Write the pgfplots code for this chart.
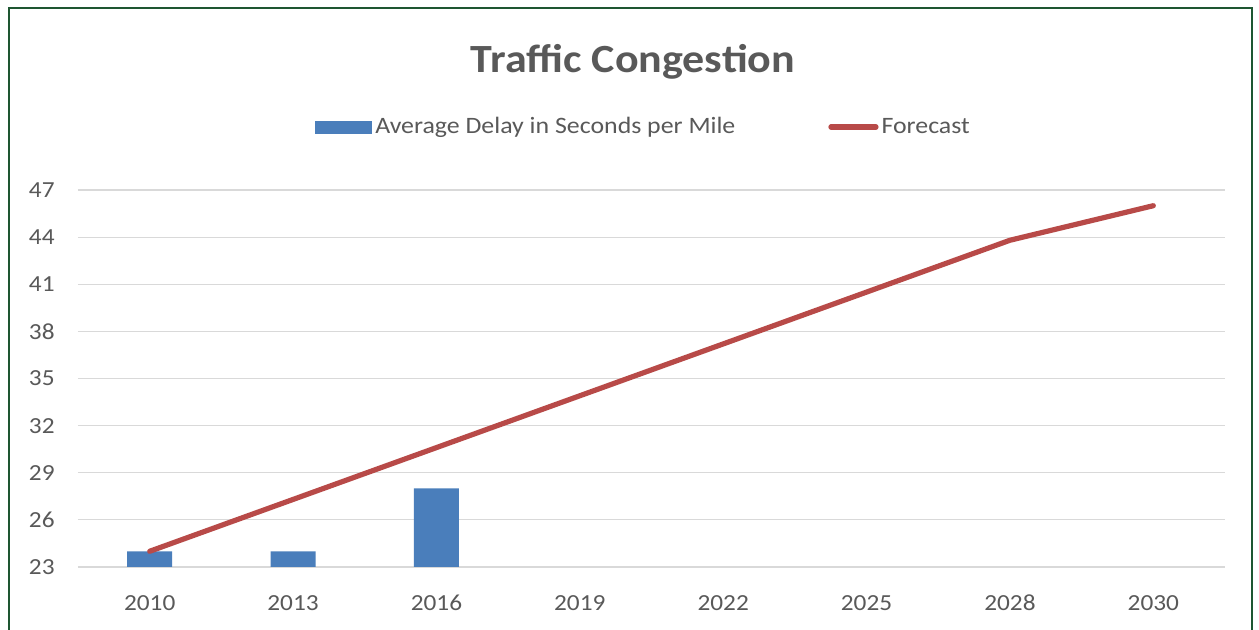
\documentclass[border=0pt]{standalone}
\usepackage{pgfplots}
\pgfplotsset{compat=1.18}
\usepackage{fontspec}
\setmainfont{Carlito}[FakeStretch=1.1]
\definecolor{barblue}{HTML}{4A7EBB}
\definecolor{linered}{HTML}{B84A48}
\definecolor{textgray}{HTML}{595959}
\definecolor{gridgray}{HTML}{D9D9D9}
\definecolor{framegreen}{HTML}{1E5631}
\begin{document}
\begin{tikzpicture}[x=1pt,y=1pt]
\path[use as bounding box] (0,0) rectangle (629.5,315);
\fill[white] (0,0) rectangle (629.5,315);
\draw[framegreen, line width=1.2pt] (4.5,-2) -- (4.5,311) -- (626,311) -- (626,-2);
\node[anchor=base, font=\bfseries\fontsize{20}{22}\selectfont, text=textgray] at (316.5,278.5) {Traffic Congestion};
\begin{axis}[
  at={(39pt,31.5pt)}, anchor=south west,
  scale only axis, width=573.5pt, height=188.5pt,
  xmin=-0.5, xmax=7.5, ymin=23, ymax=47,
  xtick={0,1,2,3,4,5,6,7},
  xticklabels={2010,2013,2016,2019,2022,2025,2028,2030},
  ytick={23,26,29,32,35,38,41,44,47},
  ymajorgrids, grid style={color=gridgray, line width=0.6pt},
  axis line style={draw=none},
  major tick length=0pt,
  /pgf/number format/assume math mode=true,
  yticklabel style={font=\fontsize{11.5}{12}\selectfont, text=textgray, inner sep=0pt, xshift=-11.5pt},
  xticklabel style={font=\fontsize{11.5}{12}\selectfont, text=textgray, inner sep=0pt, text height=8.4pt, text depth=0pt, yshift=-13pt},
  legend columns=2,
  legend style={draw=none, fill=none, at={(0.4935,1.167)}, anchor=center,
    font=\fontsize{11.75}{13}\selectfont, text=textgray,
    /tikz/every even column/.append style={column sep=45pt},
    nodes={inner sep=1.5pt}},
  legend cell align=left,
]
\addplot[ybar, bar width=22.5pt, fill=barblue, draw=none,
  legend image code/.code={\fill[barblue] (0pt,-3.25pt) rectangle (28.5pt,3.25pt);}]
  coordinates {(0,24) (1,24) (2,28)};
\addlegendentry{Average Delay in Seconds per Mile}
\addplot[linered, line width=2.6pt, line cap=round, line join=round, mark=none,
  legend image code/.code={\draw[linered, line width=2.6pt, line cap=round] (0pt,0pt) -- (22.5pt,0pt);}]
  coordinates {(0,24) (1,27.3) (2,30.6) (3,33.9) (4,37.2) (5,40.5) (6,43.8) (7,46.0)};
\addlegendentry{Forecast}
\end{axis}
\end{tikzpicture}
\end{document}
